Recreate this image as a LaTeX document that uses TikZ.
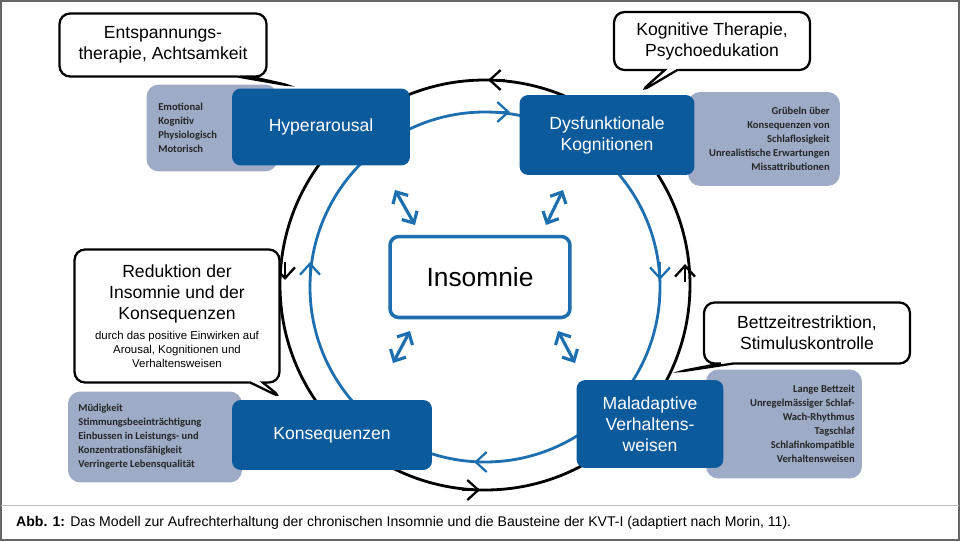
\documentclass[tikz,border=0pt]{standalone}
\usepackage{fontspec}
\setmainfont{Liberation Sans}
\newfontfamily\greyfont{Carlito}
\usetikzlibrary{arrows.meta,shapes.callouts}
\definecolor{kvtblue}{HTML}{0B5A9C}
\definecolor{kvtline}{HTML}{1E6FB0}
\definecolor{kvtgrey}{HTML}{9DABC6}
\tikzset{
  core/.style={fill=kvtblue,rounded corners=5pt,text=white,align=center,font=\fontsize{10}{12}\selectfont},
  info/.style={fill=kvtgrey,rounded corners=7pt},
  infotext/.style={font=\greyfont\bfseries\fontsize{6}{8}\selectfont,text=black!85,inner sep=0pt},
  bubble/.style={rectangle callout,draw=black,line width=1.3pt,fill=white,rounded corners=6pt,align=center,font=\fontsize{10}{12}\selectfont},
  tip/.style={-{Straight Barb[length=2.2mm,width=4mm]},line width=1.3pt},
  link/.style={{Straight Barb[length=1.8mm,width=3.5mm]}-{Straight Barb[length=1.8mm,width=3.5mm]},kvtline,line width=1.8pt}
}
\begin{document}
\begin{tikzpicture}[x=0.02cm,y=-0.02cm]
  \useasboundingbox (0,0) rectangle (960,541);
  \draw[black!60,line width=0.8pt] (1,1) rectangle (959,540);

  % cycles
  \draw[line width=1.6pt] (485,285) circle[radius=205];
  \draw[kvtline,line width=1.6pt] (485,287) circle[radius=175];
  \draw[tip] (505,80) -- (488,80);
  \draw[tip] (285,262) -- (285,280);
  \draw[tip] (462,490) -- (480,490);
  \draw[tip] (685,282) -- (685,264);
  \draw[tip,kvtline] (492,112) -- (510,112);
  \draw[tip,kvtline] (660,262) -- (660,280);
  \draw[tip,kvtline] (492,462) -- (474,462);
  \draw[tip,kvtline] (310,280) -- (310,262);

  % grey detail boxes
  \node[info,minimum width=2.62cm,minimum height=1.74cm] (hyperinfo) at (212,128) {};
  \node[info,minimum width=3.04cm,minimum height=1.88cm] (dysinfo) at (764,139) {};
  \node[info,minimum width=3.48cm,minimum height=1.82cm] (konsinfo) at (155,437) {};
  \node[info,minimum width=3.12cm,minimum height=2.18cm] (malinfo) at (784,424) {};

  \node[infotext,anchor=west,align=left] at (158,128) {Emotional\\Kognitiv\\Physiologisch\\Motorisch};
  \node[infotext,anchor=east,align=right] at (830,139) {Grübeln über\\Konsequenzen von\\Schlaflosigkeit\\Unrealistische Erwartungen\\Missattributionen};
  \node[infotext,anchor=west,align=left] at (78,437) {Müdigkeit\\Stimmungsbeeinträchtigung\\Einbussen in Leistungs- und\\Konzentrationsfähigkeit\\Verringerte Lebensqualität};
  \node[infotext,anchor=east,align=right] at (855,424) {Lange Bettzeit\\Unregelmässiger Schlaf-\\Wach-Rhythmus\\Tagschlaf\\Schlafinkompatible\\Verhaltensweisen};

  % main boxes
  \node[core,minimum width=3.56cm,minimum height=1.54cm] (hyper) at (321,127) {Hyperarousal};
  \node[core,minimum width=3.5cm,minimum height=1.6cm] (dys) at (607,135) {Dysfunktionale\\Kognitionen};
  \node[core,minimum width=4cm,minimum height=1.4cm] (kons) at (332,435) {Konsequenzen};
  \node[core,minimum width=2.94cm,minimum height=1.76cm] (mal) at (650,424) {Maladaptive\\Verhaltens-\\weisen};
  \node[draw=kvtline,line width=2pt,fill=white,rounded corners=5pt,minimum width=3.6cm,minimum height=1.62cm,font=\fontsize{15}{18}\selectfont] (ins) at (480,277) {Insomnie};

  % links to the centre
  \coordinate (hyperin) at (395,190);
  \coordinate (dysin) at (563,190);
  \coordinate (konsin) at (393,363);
  \coordinate (malin) at (575,363);
  \draw[link] (hyperin) -- ++(20,35);
  \draw[link] (dysin) -- ++(-17,35);
  \draw[link] (konsin) -- ++(17,-32);
  \draw[link] (malin) -- ++(-17,-32);

  % therapy bubbles
  \node[bubble,minimum width=4.14cm,minimum height=1.26cm,callout absolute pointer={(292,86)}] (entsp) at (163,45) {Entspannungs-\\therapie, Achtsamkeit};
  \node[bubble,minimum width=3.92cm,minimum height=1.16cm,callout absolute pointer={(640,92)}] (kogn) at (712,41) {Kognitive Therapie,\\Psychoedukation};
  \node[bubble,minimum width=4.1cm,minimum height=2.66cm,callout absolute pointer={(282,398)}] (redu) at (177,316) {Reduktion der\\Insomnie und der\\Konsequenzen\\[-1pt]{\fontsize{6.5}{8}\selectfont durch das positive Einwirken auf}\\[-4pt]{\fontsize{6.5}{8}\selectfont Arousal, Kognitionen und}\\[-4pt]{\fontsize{6.5}{8}\selectfont Verhaltensweisen}};
  \node[bubble,minimum width=4.12cm,minimum height=1.22cm,callout absolute pointer={(677,372)}] (bett) at (807,333) {Bettzeitrestriktion,\\Stimuluskontrolle};

  % caption
  \draw[black!25] (1,505) -- (959,505);
  \node[anchor=west,font=\fontsize{8}{10}\selectfont] (caption) at (10,523) {\textbf{Abb. 1:} Das Modell zur Aufrechterhaltung der chronischen Insomnie und die Bausteine der KVT-I (adaptiert nach Morin, 11).};
\end{tikzpicture}
\end{document}
